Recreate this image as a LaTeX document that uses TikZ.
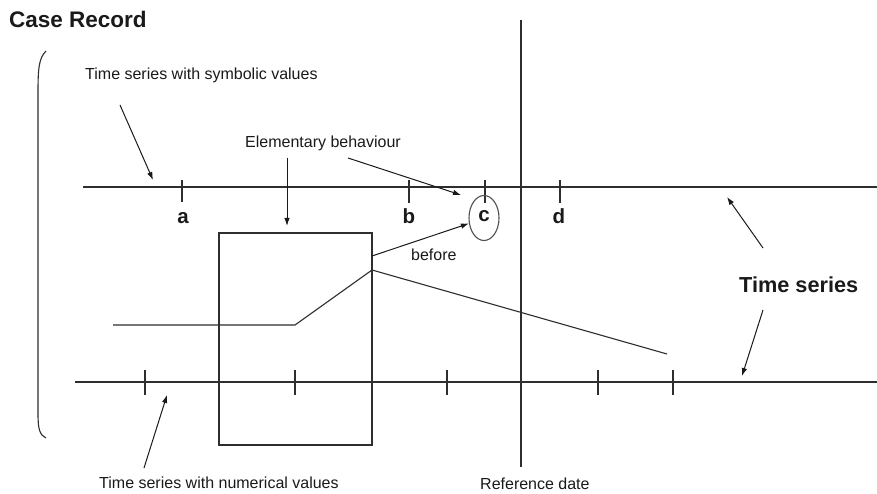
\documentclass[tikz,border=0pt]{standalone}
\usepackage{fontspec}
\setmainfont{Liberation Sans}
\usetikzlibrary{arrows.meta,shapes.geometric}
\definecolor{ink}{HTML}{1A1A1A}
\definecolor{ln}{HTML}{2E2E2E}
\definecolor{elg}{HTML}{505050}
\tikzset{
  tline/.style={line width=1.1pt,ln},
  tick/.style={line width=1.1pt,ln},
  curve/.style={line width=1.1pt,ln},
  ebox/.style={draw=ln,line width=1.1pt,rectangle,inner sep=0pt,minimum width=153pt,minimum height=212pt},
  oval/.style={draw=elg,line width=1.1pt,ellipse,inner sep=0pt,minimum width=30pt,minimum height=45pt},
  arr/.style={-{Latex[length=8pt,width=5.5pt]},line width=1pt,ink},
  lab/.style={font=\fontsize{16}{19}\selectfont,inner sep=0pt,text=ink,anchor=base west},
  head/.style={font=\bfseries\fontsize{22.5}{26}\selectfont,inner sep=0pt,text=ink,anchor=base west},
  big/.style={font=\bfseries\fontsize{21.7}{25}\selectfont,inner sep=0pt,text=ink,anchor=base west},
  letr/.style={font=\bfseries\fontsize{20.5}{24}\selectfont,inner sep=0pt,text=ink,anchor=base}
}

\begin{document}
\begin{tikzpicture}[x=1pt,y=-1pt]
\fill[white] (0,0) rectangle (877,494);
\useasboundingbox (0,0) rectangle (877,494);
% title and bracket
\node[head] (title) at (9,28) {Case Record};
\draw[line width=1.1pt,ln] (46,51) .. controls (39,58) and (38,68) .. (38,92) -- (38,414) .. controls (38,430) and (40,435) .. (46,438);
% the two time axes and the reference date
\draw[tline] (83,187) -- (877,187);
\draw[tline] (75,382) -- (877,382);
\draw[tline] (521,20) -- (521,467);
\draw[tick] (182,180) -- (182,202);\draw[tick] (409,180) -- (409,203);
\draw[tick] (485,180) -- (485,203);\draw[tick] (560,180) -- (560,203);
\draw[tick] (145,370) -- (145,395);\draw[tick] (295,370) -- (295,395);\draw[tick] (447,370) -- (447,395);
\draw[tick] (598,370) -- (598,395);\draw[tick] (673,370) -- (673,395);
% symbolic values
\node[letr] (va) at (183,224) {a};
\node[letr] (vb) at (409,224) {b};
\node[letr] (vc) at (484,222) {c};
\node[letr] (vd) at (559,224) {d};
\node[oval] (selc) at (484,218) {};
% numerical values
\draw[curve] (113,325) -- (295,325) -- (372,270) -- (667,354);
\node[ebox] (elem) at (295.5,339) {};
% labels
\node[lab] (symlab) at (85,80) {Time series with symbolic values};
\node[lab] (elemlab) at (245,148) {Elementary behaviour};
\node[lab] (before) at (411,260) {before};
\node[big] (tslab) at (739,292) {Time series};
\node[lab] (numlab) at (99,488) {Time series with numerical values};
\node[lab] (reflab) at (480,489) {Reference date};
% arrows
\coordinate (s1) at (120,105);\coordinate (s2) at (153,180);
\coordinate (e1) at (287,158);\coordinate (e2) at (287,226);
\coordinate (e3) at (348,158);\coordinate (e4) at (461,195);
\coordinate (b1) at (372,256);
\coordinate (n1) at (144,468);\coordinate (n2) at (167,395);
\coordinate (t1) at (763,248);\coordinate (t2) at (727,197);
\coordinate (t3) at (763,310);\coordinate (t4) at (742,376);
\draw[arr] (s1) -- (s2);
\draw[arr] (e1) -- (e2);
\draw[arr] (e3) -- (e4);
\draw[arr] (b1) -- (selc.200);
\draw[arr] (n1) -- (n2);
\draw[arr] (t1) -- (t2);
\draw[arr] (t3) -- (t4);
\end{tikzpicture}
\end{document}
